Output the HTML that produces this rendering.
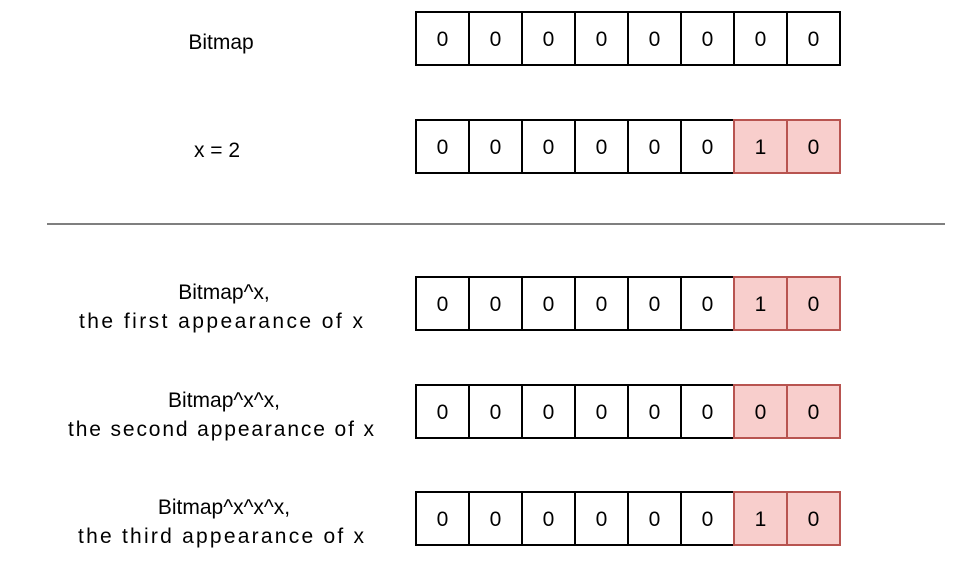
<!DOCTYPE html>
<html><head><style>body{margin:0;background:#fff}</style></head><body>
<svg width="974" height="562" xmlns="http://www.w3.org/2000/svg" xmlns:xlink="http://www.w3.org/1999/xlink" font-family="Liberation Sans, sans-serif" font-size="21" fill="#000">
<defs>
<g id="w">
<rect x="416" y="0" width="53" height="53" fill="#fff" stroke="#000" stroke-width="2"/>
<rect x="469" y="0" width="53" height="53" fill="#fff" stroke="#000" stroke-width="2"/>
<rect x="522" y="0" width="53" height="53" fill="#fff" stroke="#000" stroke-width="2"/>
<rect x="575" y="0" width="53" height="53" fill="#fff" stroke="#000" stroke-width="2"/>
<rect x="628" y="0" width="53" height="53" fill="#fff" stroke="#000" stroke-width="2"/>
<rect x="681" y="0" width="53" height="53" fill="#fff" stroke="#000" stroke-width="2"/>
</g>
<g id="wb">
<rect x="734" y="0" width="53" height="53" fill="#fff" stroke="#000" stroke-width="2"/>
<rect x="787" y="0" width="53" height="53" fill="#fff" stroke="#000" stroke-width="2"/>
</g>
<g id="r">
<rect x="734" y="0" width="53" height="53" fill="#f8cecc" stroke="#b85450" stroke-width="2"/>
<rect x="787" y="0" width="53" height="53" fill="#f8cecc" stroke="#b85450" stroke-width="2"/>
</g>
</defs>
<rect width="974" height="562" fill="#fff"/>
<line x1="47" y1="224" x2="945" y2="224" stroke="#333" stroke-width="1.3"/>
<use xlink:href="#w" y="12"/><use xlink:href="#wb" y="12"/>
<use xlink:href="#w" y="120"/><use xlink:href="#r" y="120"/>
<use xlink:href="#w" y="277"/><use xlink:href="#r" y="277"/>
<use xlink:href="#w" y="385"/><use xlink:href="#r" y="385"/>
<use xlink:href="#w" y="492"/><use xlink:href="#r" y="492"/>
<g text-anchor="middle">
<text y="46"><tspan x="442.5">0</tspan><tspan x="495.5">0</tspan><tspan x="548.5">0</tspan><tspan x="601.5">0</tspan><tspan x="654.5">0</tspan><tspan x="707.5">0</tspan><tspan x="760.5">0</tspan><tspan x="813.5">0</tspan></text>
<text y="154"><tspan x="442.5">0</tspan><tspan x="495.5">0</tspan><tspan x="548.5">0</tspan><tspan x="601.5">0</tspan><tspan x="654.5">0</tspan><tspan x="707.5">0</tspan><tspan x="760.5">1</tspan><tspan x="813.5">0</tspan></text>
<text y="311"><tspan x="442.5">0</tspan><tspan x="495.5">0</tspan><tspan x="548.5">0</tspan><tspan x="601.5">0</tspan><tspan x="654.5">0</tspan><tspan x="707.5">0</tspan><tspan x="760.5">1</tspan><tspan x="813.5">0</tspan></text>
<text y="419"><tspan x="442.5">0</tspan><tspan x="495.5">0</tspan><tspan x="548.5">0</tspan><tspan x="601.5">0</tspan><tspan x="654.5">0</tspan><tspan x="707.5">0</tspan><tspan x="760.5">0</tspan><tspan x="813.5">0</tspan></text>
<text y="526"><tspan x="442.5">0</tspan><tspan x="495.5">0</tspan><tspan x="548.5">0</tspan><tspan x="601.5">0</tspan><tspan x="654.5">0</tspan><tspan x="707.5">0</tspan><tspan x="760.5">1</tspan><tspan x="813.5">0</tspan></text>
<text x="221" y="49">Bitmap</text>
<text x="217" y="157">x = 2</text>
<text x="224" y="299">Bitmap^x,</text>
<text x="221" y="328" textLength="284">the first appearance of x</text>
<text x="224" y="407">Bitmap^x^x,</text>
<text x="221" y="436" textLength="306">the second appearance of x</text>
<text x="224" y="514">Bitmap^x^x^x,</text>
<text x="221" y="543" textLength="286">the third appearance of x</text>
</g>
</svg>
</body></html>
